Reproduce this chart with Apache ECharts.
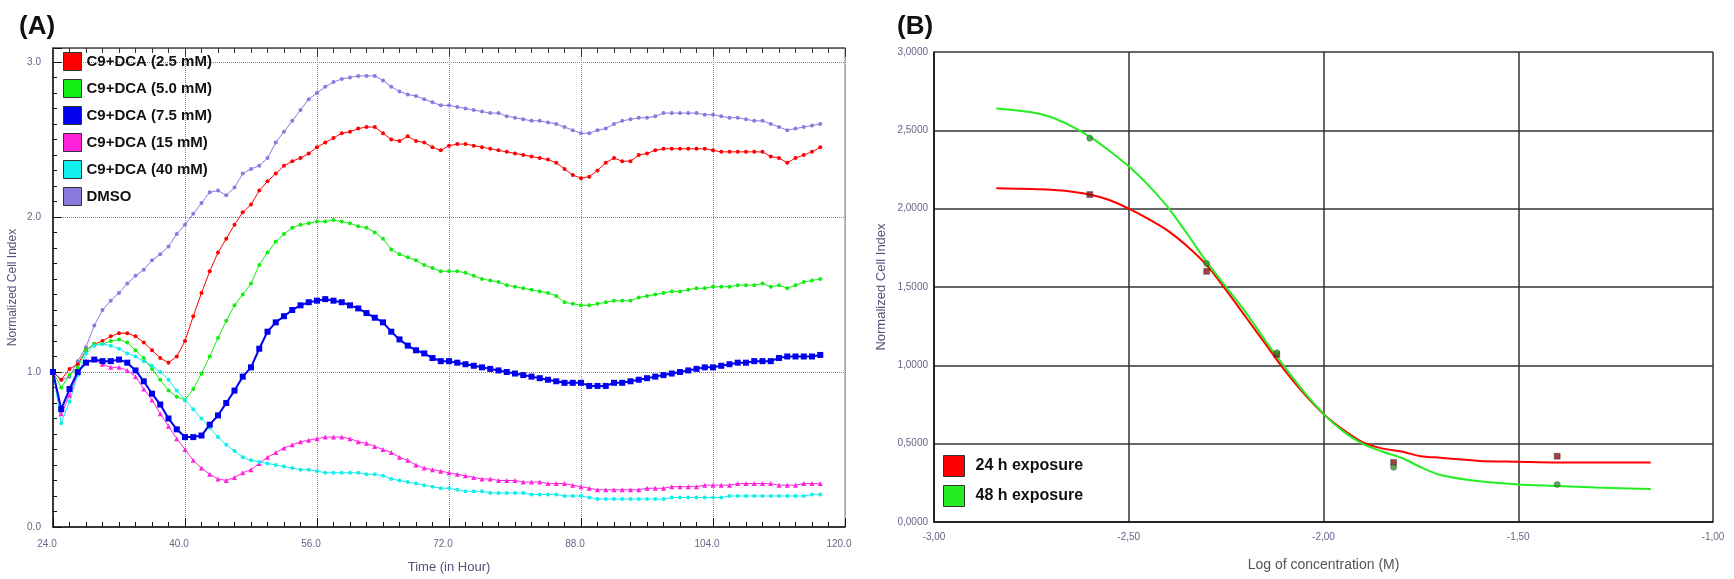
<!DOCTYPE html>
<html>
<head>
<meta charset="utf-8">
<script src="https://cdn.jsdelivr.net/npm/echarts@6/dist/echarts.min.js"></script>
<style>
html,body{margin:0;padding:0;background:#fff;}
#chart{width:1734px;height:579px;}
</style>
</head>
<body>
<div id="chart"></div>
<script>
// ---------- Panel A data: time (h) and normalized cell index ----------
const times = [];
for (let t = 24; t <= 117; t++) times.push(t);

const seriesNamesA = ['C9+DCA (2.5 mM)','C9+DCA (5.0 mM)','C9+DCA (7.5 mM)','C9+DCA (15 mM)','C9+DCA (40 mM)','DMSO'];

const dca25 = [1.00,0.95,1.02,1.05,1.14,1.18,1.20,1.23,1.25,1.25,1.23,1.19,1.14,1.09,1.06,1.10,1.20,1.36,1.51,1.65,1.77,1.86,1.95,2.03,2.08,2.17,2.23,2.28,2.33,2.36,2.38,2.41,2.45,2.48,2.51,2.54,2.55,2.57,2.58,2.58,2.54,2.50,2.49,2.52,2.49,2.48,2.45,2.43,
  2.46,2.47,2.47,2.46,2.45,2.44,2.43,2.42,2.41,2.40,2.39,2.38,2.37,2.35,2.31,2.27,2.25,2.26,2.30,2.35,2.38,2.36,2.36,2.40,
  2.41,2.43,2.44,2.44,2.44,2.44,2.44,2.44,2.43,2.42,2.42,2.42,2.42,2.42,2.42,2.39,2.38,2.35,2.38,2.40,2.42,2.45];

const dca50 = [1.00,0.90,0.98,1.03,1.14,1.18,1.18,1.20,1.21,1.19,1.14,1.09,1.02,0.95,0.88,0.84,0.82,0.89,0.99,1.10,1.22,1.33,1.43,1.50,1.57,1.69,1.77,1.84,1.89,1.93,1.95,1.96,1.97,1.97,1.98,1.97,1.96,1.94,1.93,1.90,1.86,1.79,1.76,1.74,1.72,1.69,1.67,1.65,
  1.65,1.65,1.64,1.62,1.60,1.59,1.58,1.56,1.55,1.54,1.53,1.52,1.51,1.49,1.45,1.44,1.43,1.43,1.44,1.45,1.46,1.46,1.46,1.48,
  1.49,1.50,1.51,1.52,1.52,1.53,1.54,1.54,1.55,1.55,1.55,1.56,1.56,1.56,1.57,1.55,1.56,1.54,1.56,1.58,1.59,1.60];

const dca75 = [1.00,0.76,0.89,1.00,1.06,1.08,1.07,1.07,1.08,1.06,1.01,0.94,0.86,0.79,0.70,0.63,0.58,0.58,0.59,0.66,0.72,0.80,0.88,0.97,1.03,1.15,1.26,1.32,1.36,1.40,1.43,1.45,1.46,1.47,1.46,1.45,1.43,1.41,1.38,1.35,1.32,1.26,1.21,1.17,1.14,1.12,1.09,1.07,
  1.07,1.06,1.05,1.04,1.03,1.02,1.01,1.00,0.99,0.98,0.97,0.96,0.95,0.94,0.93,0.93,0.93,0.91,0.91,0.91,0.93,0.93,0.94,0.95,
  0.96,0.97,0.98,0.99,1.00,1.01,1.02,1.03,1.03,1.04,1.05,1.06,1.06,1.07,1.07,1.07,1.09,1.10,1.10,1.10,1.10,1.11];

const dca15 = [1.00,0.73,0.85,0.99,1.07,1.08,1.05,1.03,1.03,1.01,0.97,0.89,0.82,0.73,0.65,0.57,0.50,0.43,0.38,0.34,0.31,0.30,0.32,0.35,0.37,0.41,0.45,0.48,0.51,0.53,0.55,0.56,0.57,0.58,0.58,0.58,0.57,0.55,0.54,0.52,0.50,0.48,0.45,0.43,0.40,0.38,0.37,0.36,
  0.35,0.34,0.33,0.32,0.31,0.31,0.30,0.30,0.30,0.29,0.29,0.29,0.28,0.28,0.28,0.27,0.26,0.25,0.24,0.24,0.24,0.24,0.24,0.24,
  0.25,0.25,0.25,0.26,0.26,0.26,0.26,0.27,0.27,0.27,0.27,0.28,0.28,0.28,0.28,0.28,0.27,0.27,0.27,0.28,0.28,0.28];

const dca40 = [1.00,0.67,0.81,0.98,1.12,1.17,1.18,1.17,1.15,1.12,1.10,1.07,1.04,1.00,0.95,0.88,0.82,0.76,0.70,0.64,0.58,0.53,0.49,0.45,0.43,0.42,0.41,0.40,0.39,0.38,0.37,0.37,0.36,0.35,0.35,0.35,0.35,0.35,0.34,0.34,0.33,0.31,0.30,0.29,0.28,0.27,0.26,0.25,
  0.25,0.24,0.23,0.23,0.23,0.22,0.22,0.22,0.22,0.22,0.21,0.21,0.21,0.21,0.20,0.20,0.20,0.19,0.18,0.18,0.18,0.18,0.18,0.18,
  0.18,0.18,0.18,0.19,0.19,0.19,0.19,0.19,0.19,0.19,0.20,0.20,0.20,0.20,0.20,0.20,0.20,0.20,0.20,0.20,0.21,0.21];

const dmso = [1.00,0.95,0.97,1.07,1.16,1.30,1.40,1.46,1.51,1.57,1.62,1.66,1.72,1.76,1.81,1.89,1.95,2.02,2.09,2.16,2.17,2.14,2.19,2.28,2.31,2.33,2.38,2.48,2.55,2.62,2.69,2.76,2.80,2.84,2.87,2.89,2.90,2.91,2.91,2.91,2.88,2.84,2.81,2.79,2.78,2.76,2.74,2.72,
  2.72,2.71,2.70,2.69,2.68,2.67,2.67,2.65,2.64,2.63,2.62,2.62,2.61,2.60,2.58,2.56,2.54,2.54,2.56,2.57,2.60,2.62,2.63,2.64,
  2.64,2.65,2.67,2.67,2.67,2.67,2.67,2.66,2.66,2.65,2.64,2.64,2.63,2.62,2.62,2.60,2.58,2.56,2.57,2.58,2.59,2.60];

// ---------- Panel B data: log concentration vs normalized cell index ----------
const seriesNamesB = ['24 h exposure','48 h exposure'];
const fitX24 = [-2.84,-2.75,-2.70,-2.65,-2.60,-2.55,-2.50,-2.45,-2.40,-2.35,-2.30,-2.25,-2.20,-2.15,-2.10,-2.05,-2.00,-1.95,-1.90,-1.85,-1.80,-1.75,-1.70,-1.60,-1.50,-1.40,-1.30,-1.16];
const fitY24 = [2.13,2.125,2.12,2.11,2.09,2.055,2.00,1.935,1.86,1.76,1.64,1.48,1.31,1.14,0.97,0.82,0.69,0.59,0.51,0.47,0.45,0.42,0.41,0.39,0.385,0.38,0.38,0.38];
const fitX48 = [-2.84,-2.75,-2.70,-2.65,-2.60,-2.55,-2.50,-2.45,-2.40,-2.35,-2.30,-2.25,-2.20,-2.15,-2.10,-2.05,-2.00,-1.95,-1.90,-1.85,-1.80,-1.75,-1.70,-1.60,-1.50,-1.40,-1.30,-1.16];
const fitY48 = [2.64,2.615,2.585,2.53,2.46,2.37,2.27,2.15,2.01,1.84,1.66,1.50,1.34,1.16,0.99,0.83,0.69,0.58,0.50,0.45,0.41,0.35,0.30,0.26,0.24,0.23,0.22,0.21];
const ptX = [-2.60,-2.30,-2.12,-1.82,-1.40];
const pt24 = [2.09,1.60,1.07,0.38,0.42];
const pt48 = [2.45,1.65,1.08,0.35,0.24];

// ---------- Styling ----------
const FONT = 'Liberation Sans, Arial, sans-serif';
const LABEL_COLOR = '#6e5f88';
const colorsA = ['#ff0000','#11ee11','#0000ee','#ff22dd','#11eeee','#8a7ae0'];
const symbolsA = ['circle','circle','rect','triangle','circle','circle'];
const sizesA = [4,4,6,5,4,4];
const widthsA = [1,1,2,1,1,1];
const valuesA = [dca25, dca50, dca75, dca15, dca40, dmso];

const pair = (xs, ys) => xs.map((x, i) => [x, ys[i]]);

const seriesA = seriesNamesA.map((name, k) => ({
  name: name,
  type: 'line',
  xAxisIndex: 0, yAxisIndex: 0,
  data: pair(times, valuesA[k]),
  color: colorsA[k],
  symbol: symbolsA[k],
  symbolSize: sizesA[k],
  showSymbol: true,
  lineStyle: {width: widthsA[k]},
  z: k === 2 ? 4 : 3
}));
seriesA.unshift(seriesA.pop());

const seriesB = [
  {name: seriesNamesB[0], type: 'line', xAxisIndex: 2, yAxisIndex: 2, data: pair(fitX24, fitY24),
   color: '#ff0000', showSymbol: false, smooth: 0.3, lineStyle: {width: 2}},
  {name: seriesNamesB[1], type: 'line', xAxisIndex: 2, yAxisIndex: 2, data: pair(fitX48, fitY48),
   color: '#22ee22', showSymbol: false, smooth: 0.3, lineStyle: {width: 2}},
  {name: 'pts24', type: 'scatter', xAxisIndex: 2, yAxisIndex: 2, data: pair(ptX, pt24),
   symbol: 'rect', symbolSize: 6, itemStyle: {color: '#8b1010', borderColor: '#333', borderWidth: 0.5}, z: 5},
  {name: 'pts48', type: 'scatter', xAxisIndex: 2, yAxisIndex: 2, data: pair(ptX, pt48),
   symbol: 'circle', symbolSize: 6, itemStyle: {color: '#2a9a2a', borderColor: '#333', borderWidth: 0.5}, z: 5}
];

const chart = echarts.init(document.getElementById('chart'), null, {renderer: 'canvas'});
const option = {
  animation: false,
  backgroundColor: '#ffffff',
  textStyle: {fontFamily: FONT},
  title: [
    {text: '(A)', left: 14, top: 9, textStyle: {fontSize: 26, fontWeight: 'bold', color: '#111', fontFamily: FONT}},
    {text: '(B)', left: 892, top: 9, textStyle: {fontSize: 26, fontWeight: 'bold', color: '#111', fontFamily: FONT}}
  ],
  legend: [
    {data: seriesNamesA, orient: 'vertical', left: 63, top: 52, padding: 0,
     itemWidth: 18, itemHeight: 18, itemGap: 8, icon: 'rect',
     itemStyle: {borderColor: '#333', borderWidth: 1},
     textStyle: {fontSize: 15, fontWeight: 'bold', color: '#111', fontFamily: FONT}},
    {data: seriesNamesB, orient: 'vertical', left: 943, top: 455, padding: 0,
     itemWidth: 21, itemHeight: 21, itemGap: 8, icon: 'rect',
     itemStyle: {borderColor: '#333', borderWidth: 1},
     textStyle: {fontSize: 16, fontWeight: 'bold', color: '#111', fontFamily: FONT, padding: [0, 0, 0, 6]}}
  ],
  grid: [
    {left: 53, top: 48, width: 792, height: 481, show: true, borderColor: '#888', borderWidth: 1, backgroundColor: 'transparent'},
    {left: 934, top: 52, width: 779, height: 470}
  ],
  xAxis: [
    {gridIndex: 0, type: 'value', position: 'bottom', min: 24, max: 120, interval: 16,
     axisLine: {onZero: false, lineStyle: {color: '#111', width: 1.5}},
     axisTick: {inside: true, length: 9, lineStyle: {color: '#111'}},
     minorTick: {show: true, splitNumber: 8, length: 5, lineStyle: {color: '#111'}},
     splitLine: {show: true, lineStyle: {type: 'dotted', color: '#888', width: 1}},
     axisLabel: {formatter: v => v.toFixed(1), color: LABEL_COLOR, fontSize: 10, margin: 12, padding: [0, 12, 0, 0], fontFamily: FONT},
     name: 'Time (in Hour)', nameLocation: 'middle', nameGap: 34,
     nameTextStyle: {fontSize: 13, color: '#5a4f78', fontFamily: FONT}},
    {gridIndex: 0, type: 'value', position: 'top', min: 24, max: 120, interval: 16,
     axisLine: {onZero: false, lineStyle: {color: '#555', width: 1.5}},
     axisTick: {inside: true, length: 9, lineStyle: {color: '#333'}},
     minorTick: {show: true, splitNumber: 8, length: 5, lineStyle: {color: '#333'}},
     splitLine: {show: false}, axisLabel: {show: false}},
    {gridIndex: 1, type: 'value', position: 'bottom', min: -3, max: -1, interval: 0.5,
     axisLine: {onZero: false, lineStyle: {color: '#111', width: 1.5}},
     axisTick: {show: false},
     splitLine: {show: true, lineStyle: {color: '#333', width: 1.5}},
     axisLabel: {formatter: v => v.toFixed(2).replace('.', ','), color: LABEL_COLOR, fontSize: 10, margin: 10, fontFamily: FONT},
     name: 'Log of concentration (M)', nameLocation: 'middle', nameGap: 36,
     nameTextStyle: {fontSize: 14, color: '#555', fontFamily: FONT}}
  ],
  yAxis: [
    {gridIndex: 0, type: 'value', position: 'left', min: 0, max: 3.09, interval: 1,
     axisLine: {onZero: false, lineStyle: {color: '#111', width: 1.5}},
     axisTick: {inside: true, length: 9, lineStyle: {color: '#111'}},
     splitLine: {show: true, lineStyle: {type: 'dotted', color: '#888', width: 1}},
     axisLabel: {formatter: v => (Math.abs(v - Math.round(v)) < 1e-6 ? v.toFixed(1) : ''), color: LABEL_COLOR, fontSize: 10, margin: 12, fontFamily: FONT},
     name: 'Normalized Cell Index', nameLocation: 'middle', nameGap: 34,
     nameTextStyle: {fontSize: 12, color: '#5a4f78', fontFamily: FONT}},
    {gridIndex: 0, type: 'value', position: 'left', min: 0, max: 3.09, interval: 0.1,
     axisLine: {show: false, onZero: false},
     axisTick: {inside: true, length: 4, lineStyle: {color: '#111'}},
     splitLine: {show: false}, axisLabel: {show: false}},
    {gridIndex: 1, type: 'value', position: 'left', min: 0, max: 3, interval: 0.5,
     axisLine: {onZero: false, lineStyle: {color: '#111', width: 1.5}},
     axisTick: {show: false},
     splitLine: {show: true, lineStyle: {color: '#333', width: 1.5}},
     axisLabel: {formatter: v => v.toFixed(4).replace('.', ','), color: LABEL_COLOR, fontSize: 10, margin: 6, fontFamily: FONT},
     name: 'Normalized Cell Index', nameLocation: 'middle', nameGap: 46,
     nameTextStyle: {fontSize: 13, color: '#5a4f78', fontFamily: FONT}}
  ],
  series: seriesA.concat(seriesB)
};
chart.setOption(option);
</script>
</body>
</html>
